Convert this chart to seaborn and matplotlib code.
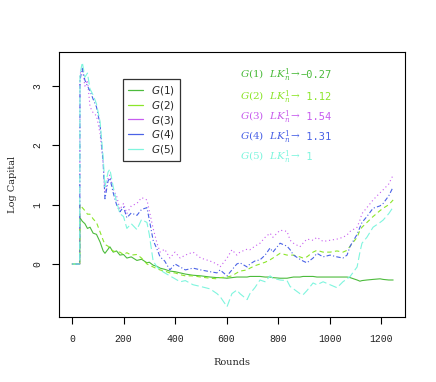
import matplotlib
matplotlib.use("Agg")
import matplotlib.pyplot as plt
import seaborn as sns
import pandas as pd

rounds = [0, 30, 31, 40, 50, 60, 70, 82, 95, 109, 121, 128, 140, 147, 160, 173, 186, 200, 213, 230,
          252, 270, 291, 300, 315, 330, 342, 360, 380, 400, 420, 440, 470, 500, 536, 563, 575, 602,
          621, 640, 652, 680, 691, 710, 730, 750, 769, 780, 808, 835, 847, 860, 885, 897, 912, 936,
          951, 975, 1002, 1029, 1052, 1068, 1080, 1107, 1118, 1126, 1145, 1169, 1196, 1208, 1230, 1247]

g1 = [0, 0, 0.78, 0.72, 0.68, 0.6, 0.62, 0.52, 0.5, 0.37, 0.22, 0.18, 0.25, 0.29, 0.2, 0.22, 0.15, 0.16,
      0.1, 0.12, 0.06, 0.08, 0.02, 0.03, -0.02, -0.04, -0.07, -0.09, -0.12, -0.13, -0.15, -0.17, -0.19,
      -0.2, -0.22, -0.23, -0.23, -0.24, -0.23, -0.22, -0.22, -0.22, -0.21, -0.21, -0.21, -0.22, -0.22,
      -0.23, -0.24, -0.24, -0.23, -0.22, -0.22, -0.21, -0.21, -0.21, -0.22, -0.22, -0.22, -0.22, -0.22,
      -0.22, -0.23, -0.27, -0.29, -0.28, -0.27, -0.26, -0.25, -0.26, -0.27, -0.27]
g2 = [0, 0, 1.0, 0.95, 0.9, 0.84, 0.84, 0.76, 0.7, 0.54, 0.4, 0.33, 0.3, 0.25, 0.22, 0.2, 0.2, 0.16,
      0.19, 0.15, 0.16, 0.1, 0.0, -0.02, -0.05, -0.08, -0.1, -0.12, -0.15, -0.15, -0.18, -0.2, -0.2,
      -0.22, -0.24, -0.25, -0.23, -0.22, -0.2, -0.15, -0.12, -0.1, -0.07, -0.03, 0.0, 0.03, 0.07, 0.1,
      0.18, 0.15, 0.15, 0.15, 0.12, 0.1, 0.12, 0.2, 0.23, 0.2, 0.2, 0.22, 0.2, 0.23, 0.3, 0.45, 0.57,
      0.62, 0.7, 0.8, 0.9, 0.94, 1.0, 1.08]
g3 = [0, 0, 3.2, 3.3, 3.0, 3.1, 2.65, 2.55, 2.5, 2.2, 1.7, 1.2, 1.45, 1.5, 1.25, 1.15, 0.92, 1.02, 0.85,
      0.98, 1.02, 1.12, 1.08, 0.9, 0.6, 0.35, 0.2, 0.25, 0.1, 0.2, 0.1, 0.15, 0.2, 0.1, 0.05, 0.0, -0.05,
      0.1, 0.24, 0.15, 0.2, 0.25, 0.24, 0.3, 0.35, 0.45, 0.52, 0.45, 0.57, 0.55, 0.4, 0.35, 0.29, 0.35,
      0.42, 0.4, 0.45, 0.38, 0.4, 0.42, 0.45, 0.49, 0.55, 0.62, 0.74, 0.85, 0.95, 1.08, 1.2, 1.25, 1.35,
      1.5]
g4 = [0, 0, 3.1, 3.3, 3.1, 3.0, 2.92, 2.78, 2.65, 2.35, 1.7, 1.1, 1.4, 1.45, 1.2, 1.0, 0.88, 0.96, 0.78,
      0.86, 0.82, 0.92, 0.95, 0.75, 0.4, 0.25, 0.12, 0.05, -0.1, 0.0, -0.05, -0.1, -0.07, -0.1, -0.13,
      -0.15, -0.1, -0.2, -0.1, 0.0, 0.02, -0.05, 0.0, 0.05, 0.07, 0.15, 0.27, 0.2, 0.35, 0.3, 0.24, 0.15,
      0.08, 0.05, 0.02, 0.1, 0.18, 0.12, 0.15, 0.12, 0.1, 0.15, 0.3, 0.5, 0.62, 0.7, 0.8, 0.94, 0.98,
      1.02, 1.15, 1.3]
g5 = [0, 0, 3.2, 3.4, 3.15, 3.22, 2.95, 2.85, 2.7, 2.4, 1.8, 1.3, 1.55, 1.6, 1.3, 1.05, 0.85, 0.8, 0.6,
      0.68, 0.58, 0.75, 0.7, 0.5, 0.05, -0.05, -0.1, -0.15, -0.2, -0.25, -0.3, -0.28, -0.35, -0.38, -0.42,
      -0.5, -0.55, -0.72, -0.5, -0.44, -0.5, -0.6, -0.5, -0.4, -0.27, -0.3, -0.2, -0.24, -0.27, -0.28,
      -0.38, -0.42, -0.5, -0.52, -0.45, -0.32, -0.35, -0.3, -0.35, -0.4, -0.3, -0.25, -0.21, -0.05, 0.2,
      0.35, 0.45, 0.62, 0.7, 0.74, 0.85, 0.96]

names = ["G(1)", "G(2)", "G(3)", "G(4)", "G(5)"]
limits = ["\u22120.27", " 1.12", " 1.54", " 1.31", " 1"]
colors = ["#4cbb3c", "#8ce62a", "#c75cf0", "#4a62e6", "#7ff5de"]
styles = ["-", (0, (4, 3)), (0, (1, 2.5)), (0, (1, 2, 4, 2)), (0, (7, 3))]
series = [g1, g2, g3, g4, g5]

sns.set_theme(style="white")
plt.rcParams['font.family'] = ['DejaVu Sans']

fig = plt.figure(figsize=(4.36, 3.82), dpi=100)
ax = fig.add_axes([59/436, (382-317)/382, (405-59)/436, (317-52)/382])

handles = []
for name, vals, col, ls in zip(names, series, colors, styles):
    df = pd.DataFrame({"Rounds": rounds, "val": vals})
    sns.lineplot(data=df, x="Rounds", y="val", ax=ax, color=col, linewidth=0.8,
                 estimator=None, sort=False, linestyle=ls)
    h, = ax.plot([], [], color=col, linewidth=0.9, linestyle="-")
    handles.append(h)

ax.set_xlim(-50.5, 1293)
ax.set_ylim(-0.894, 3.575)
ax.set_xticks([0, 200, 400, 600, 800, 1000, 1200])
ax.set_yticks([0, 1, 2, 3])
for s in ax.spines.values():
    s.set_color("black")
    s.set_linewidth(0.8)
ax.tick_params(axis="both", direction="out", length=5, width=0.8, color="black",
               labelsize=7, labelcolor="#222222", pad=7, bottom=True, left=True)
for lab in ax.get_xticklabels() + ax.get_yticklabels():
    lab.set_family("Liberation Mono")
for lab in ax.get_yticklabels():
    lab.set_rotation(90)
    lab.set_va("center")

ax.set_xlabel("Rounds", family="DejaVu Serif", fontsize=7, labelpad=10)
ax.set_ylabel("Log Capital", family="DejaVu Serif", fontsize=7, labelpad=11)

leg = ax.legend(handles, [f"${n}$" for n in names], loc="upper left",
                bbox_to_anchor=((118-59)/346, (317-74)/265), frameon=True, fancybox=False,
                fontsize=7.5, handlelength=1.4, handletextpad=0.8, labelspacing=0.15,
                borderpad=0.5, edgecolor="black")
leg.get_frame().set_linewidth(0.9)

ys = [75, 97, 117, 137, 157]
for n, lim, col, yp in zip(names, limits, colors, ys):
    t1 = ax.text(240/436, 1 - yp/382, f"${n}\\ \\ LK_n^1\\!\\rightarrow$", transform=fig.transFigure,
                 color=col, fontsize=7.5, va="center", ha="left", math_fontfamily="dejavuserif")
    ax.annotate(lim, xy=(1, 0.5), xycoords=t1, xytext=(0, 0), textcoords="offset points",
                color=col, fontsize=7.5, va="center", ha="left", family="DejaVu Sans Mono")

fig.savefig("out.png", dpi=100)
